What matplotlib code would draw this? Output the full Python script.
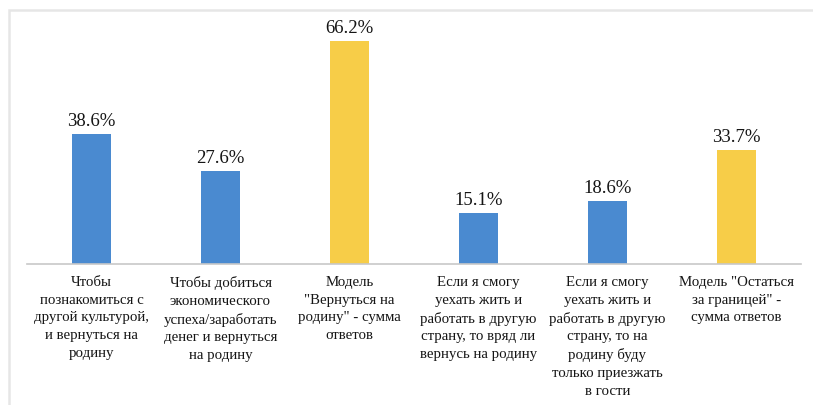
import matplotlib.pyplot as plt
from matplotlib.patches import Rectangle

categories = [
    "Чтобы\nпознакомиться с\nдругой культурой,\nи вернуться на\nродину",
    "Чтобы добиться\nэкономического\nуспеха/заработать\nденег и вернуться\nна родину",
    "Модель\n\"Вернуться на\nродину\" - сумма\nответов",
    "Если я смогу\nуехать жить и\nработать в другую\nстрану, то вряд ли\nвернусь на родину",
    "Если я смогу\nуехать жить и\nработать в другую\nстрану, то на\nродину буду\nтолько приезжать\nв гости",
    "Модель \"Остаться\nза границей\" -\nсумма ответов",
]
values = [38.6, 27.6, 66.2, 15.1, 18.6, 33.7]
is_model = [False, False, True, False, False, True]

BLUE = "#4a8ad0"
YELLOW = "#f7cd48"

plt.rcParams["font.family"] = ["Liberation Serif", "DejaVu Serif"]

fig = plt.figure(figsize=(8.13, 4.06), dpi=100)
ax = fig.add_axes([27 / 813, 1 - 265 / 406, 774 / 813, 250 / 406])

colors = [YELLOW if m else BLUE for m in is_model]
x = range(len(values))
bars = ax.bar(x, values, width=0.3, color=colors)

for b, v in zip(bars, values):
    ax.text(b.get_x() + b.get_width() / 2, v + 1.5, f"{v:.1f}%",
            ha="center", va="bottom", fontsize=13.5, color="#151515")

ax.set_xlim(-0.5, len(values) - 0.5)
ax.set_ylim(0, 74.2)
ax.set_yticks([])
ax.set_xticks(list(x))
ax.set_xticklabels(categories, fontsize=10.7, color="#151515", linespacing=1.46)
ax.tick_params(axis="x", length=0, pad=8)
for s in ["top", "right", "left"]:
    ax.spines[s].set_visible(False)
ax.spines["bottom"].set_color("#c8c8c8")
ax.spines["bottom"].set_linewidth(1.2)

# light frame of the original picture (left and top edges)
fig.patches.append(Rectangle((8.5 / 813, -0.1), 1.2, 1 - 11 / 406 + 0.1,
                             transform=fig.transFigure, fill=False,
                             edgecolor="#e6e6e6", linewidth=1.8))

fig.savefig("out.png", dpi=100)
